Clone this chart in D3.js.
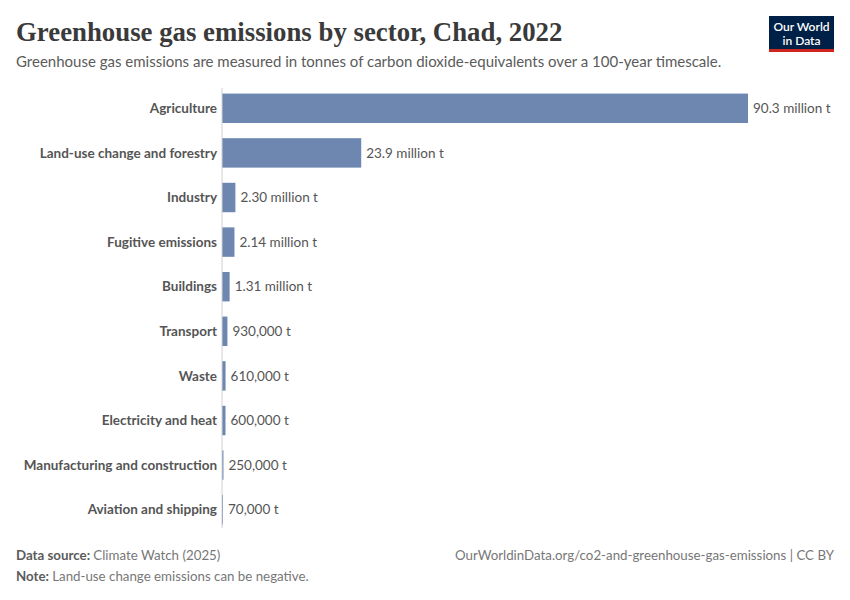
<!DOCTYPE html>
<html lang="en">
<head>
<meta charset="UTF-8">
<title>Greenhouse gas emissions by sector, Chad, 2022</title>
<script src="https://cdn.jsdelivr.net/npm/d3@7/dist/d3.min.js"></script>
<style>
  body { margin: 0; background: #fff; }
  svg { font-family: Lato, "Open Sans", sans-serif; }
</style>
</head>
<body>
<svg id="chart" width="850" height="600"></svg>
<script>
// data
var sectors = ['Agriculture', 'Land-use change and forestry', 'Industry', 'Fugitive emissions',
  'Buildings', 'Transport', 'Waste', 'Electricity and heat',
  'Manufacturing and construction', 'Aviation and shipping'];
var emissions = [90.3e6, 23.9e6, 2.30e6, 2.14e6, 1.31e6, 930000, 610000, 600000, 250000, 70000];
var valueLabels = ['90.3 million t', '23.9 million t', '2.30 million t', '2.14 million t',
  '1.31 million t', '930,000 t', '610,000 t', '600,000 t', '250,000 t', '70,000 t'];

var svg = d3.select('#chart');

var x = d3.scaleLinear().domain([0, 90.3e6]).range([222, 748]);
var y = d3.scaleBand().domain(sectors).range([86, 532]).paddingInner(0.34).paddingOuter(0.17);

var rows = sectors.map((s, i) => ({name: s, value: emissions[i], label: valueLabels[i]}));

// header
svg.append('text').attr('x', 16).attr('y', 41)
  .attr('font-family', '"Liberation Serif", "DejaVu Serif", serif')
  .attr('font-size', '26.8px').attr('font-weight', 700).attr('fill', '#3a3a3a')
  .text('Greenhouse gas emissions by sector, Chad, 2022');
svg.append('text').attr('x', 16).attr('y', 67)
  .attr('font-size', '15px').attr('fill', '#5b5b5b')
  .text('Greenhouse gas emissions are measured in tonnes of carbon dioxide-equivalents over a 100-year timescale.');

// logo
var logo = svg.append('g');
logo.append('rect').attr('x', 769).attr('y', 16).attr('width', 65).attr('height', 36).attr('fill', '#002147');
logo.append('rect').attr('x', 769).attr('y', 49).attr('width', 65).attr('height', 3).attr('fill', '#ce261e');
logo.append('text').attr('x', 801.5).attr('y', 31).attr('text-anchor', 'middle')
  .attr('fill', '#fff').attr('font-size', '12px').attr('font-weight', 600).text('Our World');
logo.append('text').attr('x', 801.5).attr('y', 45).attr('text-anchor', 'middle')
  .attr('fill', '#fff').attr('font-size', '12px').attr('font-weight', 600).text('in Data');

// bars
svg.selectAll('rect.bar').data(rows).join('rect').attr('class', 'bar')
  .attr('x', x(0)).attr('y', d => y(d.name))
  .attr('width', d => Math.max(1, x(d.value) - x(0)))
  .attr('height', y.bandwidth())
  .attr('fill', '#6d87b0');

// zero line
svg.append('line').attr('x1', x(0)).attr('x2', x(0)).attr('y1', 88).attr('y2', 528)
  .attr('stroke', '#d0d0d0').attr('stroke-width', 1);

// category labels
svg.selectAll('text.cat').data(rows).join('text').attr('class', 'cat')
  .attr('x', x(0) - 5).attr('y', d => y(d.name) + y.bandwidth() / 2)
  .attr('dy', '0.35em').attr('text-anchor', 'end')
  .attr('font-size', '13.5px').attr('font-weight', 700).attr('fill', '#555')
  .text(d => d.name);

// value labels
svg.selectAll('text.val').data(rows).join('text').attr('class', 'val')
  .attr('x', d => Math.max(x(d.value), x(0) + 1) + 5).attr('y', d => y(d.name) + y.bandwidth() / 2)
  .attr('dy', '0.35em')
  .attr('font-size', '13.5px').attr('fill', '#555')
  .text(d => d.label);

// footer
var src = svg.append('text').attr('x', 16).attr('y', 560).attr('font-size', '13.3px').attr('fill', '#777');
src.append('tspan').attr('font-weight', 700).attr('fill', '#5b5b5b').text('Data source: ');
src.append('tspan').text('Climate Watch (2025)');
svg.append('text').attr('x', 834).attr('y', 560).attr('text-anchor', 'end')
  .attr('font-size', '13.3px').attr('fill', '#777')
  .text('OurWorldinData.org/co2-and-greenhouse-gas-emissions | CC BY');
var note = svg.append('text').attr('x', 16).attr('y', 581).attr('font-size', '13.3px').attr('fill', '#777');
note.append('tspan').attr('font-weight', 700).attr('fill', '#5b5b5b').text('Note: ');
note.append('tspan').text('Land-use change emissions can be negative.');
</script>
</body>
</html>
